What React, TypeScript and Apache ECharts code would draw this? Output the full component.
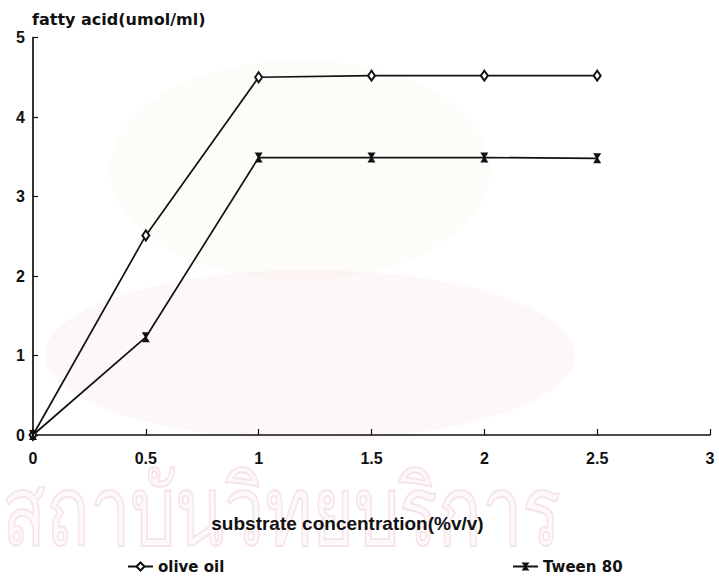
import React, { useEffect, useRef } from "react";
import * as echarts from "echarts";

// substrate concentration (%v/v)
const concentrations = [0, 0.5, 1, 1.5, 2, 2.5];
// fatty acid released (umol/ml)
const oliveOil = [0, 2.51, 4.5, 4.52, 4.52, 4.52];
const tween80 = [0, 1.23, 3.49, 3.49, 3.49, 3.48];

const seriesNames = ["olive oil", "Tween 80"];
const xAxisTitle = "substrate concentration(%v/v)";
const yAxisTitle = "fatty acid(umol/ml)";
const stampText = "สถาบันวิทยบริการ";

const TICK_FONT = "'Liberation Sans', Arial, sans-serif";
const TITLE_FONT = "'DejaVu Sans', 'Liberation Sans', sans-serif";
const INK = "#111";
const hourglass = "path://M0,0 L10,0 L6.2,5 L10,10 L0,10 L3.8,5 Z";

export default function App() {
  const ref = useRef<HTMLDivElement>(null);

  useEffect(() => {
    document.body.style.margin = "0";
    document.body.style.overflow = "hidden";
    if (!ref.current) return;
    const chart = echarts.init(ref.current, undefined, { renderer: "svg" });
    const toPairs = (ys: number[]) => concentrations.map((x, i) => [x, ys[i]]);
    const legendText = { fontFamily: TITLE_FONT, fontWeight: "bold", fontSize: 15, color: INK };

    chart.setOption({
      animation: false,
      backgroundColor: "#fff",
      graphic: [
        {
          type: "ellipse",
          silent: true,
          z: -10,
          shape: { cx: 300, cy: 170, rx: 190, ry: 110 },
          style: { fill: "rgba(225,215,170,0.07)" },
        },
        {
          type: "ellipse",
          silent: true,
          z: -10,
          shape: { cx: 310, cy: 355, rx: 265, ry: 85 },
          style: { fill: "rgba(235,170,185,0.09)" },
        },
        {
          type: "text",
          silent: true,
          z: -10,
          x: 2,
          y: 556,
          scaleY: 1.35,
          style: {
            text: stampText,
            fontSize: 72,
            fontFamily: "'Noto Sans', 'DejaVu Sans', sans-serif",
            verticalAlign: "bottom",
            fill: "rgba(240,200,212,0.10)",
            stroke: "rgba(225,160,180,0.26)",
            lineWidth: 1.5,
          },
        },
      ],
      grid: { left: 33, right: 9, top: 37.5, bottom: 141, containLabel: false },
      legend: [
        {
          data: [seriesNames[0]],
          left: 127,
          top: 554,
          padding: [5, 5, 5, 0],
          itemWidth: 25,
          itemHeight: 10,
          itemGap: 4,
          textStyle: legendText,
        },
        {
          data: [seriesNames[1]],
          left: 512,
          top: 554,
          padding: [5, 5, 5, 0],
          itemWidth: 25,
          itemHeight: 10,
          textStyle: legendText,
        },
      ],
      xAxis: {
        type: "value",
        min: 0,
        max: 3,
        interval: 0.5,
        name: xAxisTitle,
        nameLocation: "middle",
        nameGap: 79,
        nameTextStyle: {
          fontFamily: TICK_FONT,
          fontWeight: "bold",
          fontSize: 19,
          color: INK,
          padding: [0, 48, 0, 0],
        },
        axisLine: { lineStyle: { color: INK, width: 1.7 } },
        axisTick: { inside: true, length: 6, lineStyle: { color: INK, width: 1.2 } },
        axisLabel: {
          fontFamily: TICK_FONT,
          fontWeight: "bold",
          fontSize: 16,
          color: INK,
          margin: 15,
          formatter: (v: number) => String(v),
        },
        splitLine: { show: false },
      },
      yAxis: {
        type: "value",
        min: 0,
        max: 5,
        interval: 1,
        name: yAxisTitle,
        nameLocation: "end",
        nameGap: 10,
        nameTextStyle: {
          fontFamily: TITLE_FONT,
          fontWeight: "bold",
          fontSize: 16,
          color: INK,
          align: "left",
          padding: [0, 0, 0, -1],
        },
        axisLine: { show: true, lineStyle: { color: INK, width: 1.7 } },
        axisTick: { show: true, inside: true, length: 5, lineStyle: { color: INK, width: 1.2 } },
        axisLabel: { fontFamily: TICK_FONT, fontWeight: "bold", fontSize: 16, color: INK, margin: 8 },
        splitLine: { show: false },
      },
      series: [
        {
          name: seriesNames[0],
          type: "line",
          data: toPairs(oliveOil),
          symbol: "emptyDiamond",
          symbolSize: [7, 10],
          lineStyle: { color: INK, width: 1.7 },
          itemStyle: { color: INK, borderColor: INK, borderWidth: 1.5 },
        },
        {
          name: seriesNames[1],
          type: "line",
          data: toPairs(tween80),
          symbol: hourglass,
          symbolSize: [8, 10],
          lineStyle: { color: INK, width: 1.7 },
          itemStyle: { color: INK },
        },
      ],
    });

    return () => chart.dispose();
  }, []);

  return <div ref={ref} style={{ width: 719, height: 576 }} />;
}
